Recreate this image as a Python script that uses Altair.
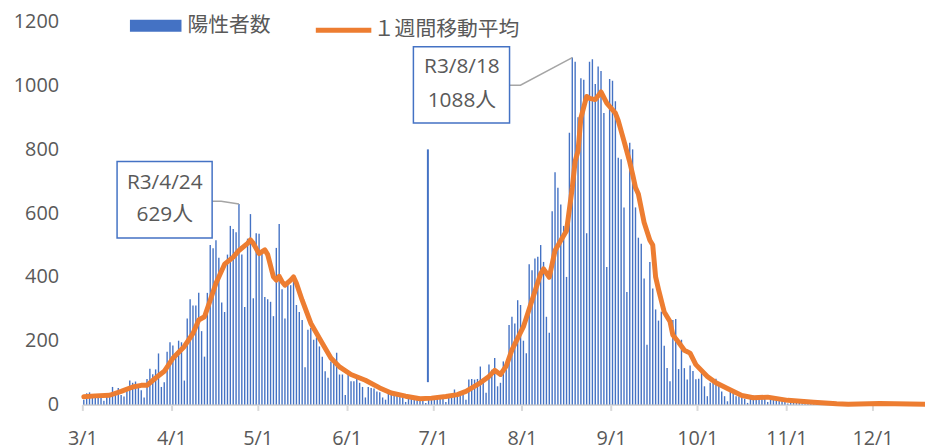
import altair as alt
import pandas as pd

# ---------------- data ----------------
start_date = "2021-03-01"

# daily positive cases from 2021-03-01 to 2021-12-19 (one row per week, Mon..Sun)
daily_cases = [
    15, 35, 38, 30, 32, 28, 20,
    12, 30, 35, 55, 40, 52, 30,
    25, 48, 75, 68, 72, 60, 45,
    22, 80, 112, 95, 110, 160, 55,
    70, 165, 195, 185, 160, 200, 195,
    75, 270, 330, 310, 310, 350, 230,
    150, 350, 500, 490, 515, 460, 320,
    290, 470, 560, 550, 540, 629, 470,
    306, 520, 597, 333, 537, 535, 480,
    337, 330, 322, 277, 491, 566, 361,
    270, 384, 374, 400, 312, 290, 265,
    117, 234, 240, 203, 210, 182, 150,
    104, 84, 135, 140, 162, 94, 94,
    30, 94, 73, 73, 85, 68, 55,
    22, 55, 52, 50, 41, 38, 22,
    15, 40, 38, 32, 30, 28, 22,
    8, 25, 22, 18, 15, 14, 12,
    5, 15, 22, 20, 25, 22, 18,
    8, 28, 30, 47, 25, 35, 30,
    15, 78, 80, 78, 80, 119, 80,
    37, 125, 109, 146, 57, 68, 135,
    110, 249, 275, 254, 327, 312, 200,
    161, 440, 421, 458, 463, 500, 447,
    275, 225, 606, 728, 680, 627, 560,
    400, 852, 1088, 1075, 901, 1023, 1018,
    537, 1075, 1083, 1005, 1060, 1046, 914,
    431, 1021, 1015, 951, 774, 769, 618,
    353, 821, 800, 618, 523, 504, 395,
    187, 447, 364, 298, 263, 291, 184,
    114, 73, 265, 268, 111, 203, 114,
    78, 122, 105, 79, 81, 105, 57,
    26, 68, 68, 81, 62, 41, 26,
    10, 42, 42, 26, 25, 22, 18,
    5, 20, 28, 25, 22, 24, 20,
    8, 15, 20, 18, 14, 12, 8,
    3, 12, 10, 8, 9, 7, 5,
    2, 8, 7, 6, 5, 5, 3,
    1, 3, 4, 2, 3, 2, 1,
    0, 1, 2, 3, 2, 1, 3,
    0, 2, 3, 4, 5, 3, 2,
    1, 2, 4, 3, 5, 4, 3,
    1, 2, 3, 3, 2, 4, 1,
]

# 7-day moving average, read at points along the orange line (days after 3/1)
ma_days = [0, 4, 9, 13, 17, 20, 22, 25, 28, 31,
           35, 38, 40, 42, 44, 46, 49, 52, 54, 57,
           58, 59, 61, 63, 64, 66, 67, 68, 69, 70,
           72, 73, 74, 76, 79, 83, 86, 89, 93, 98,
           103, 107, 112, 117, 121, 126, 130, 133, 138, 141,
           143, 145, 147, 149, 153, 156, 159, 160, 162, 164,
           166, 168, 170, 171, 172, 173, 175, 176, 178, 180,
           182, 185, 186, 188, 190, 191, 192, 193, 195, 197,
           198, 199, 200, 202, 204, 205, 207, 209, 211, 213,
           217, 220, 224, 229, 233, 238, 245, 254, 262, 266,
           277, 293]
ma_values = [24, 27, 29, 41, 55, 60, 60, 83, 104, 145,
             182, 223, 265, 275, 327, 380, 440, 462, 483, 505,
             516, 505, 473, 485, 470, 400, 390, 402, 385, 374,
             390, 400, 380, 327, 255, 192, 146, 118, 94, 76,
             52, 36, 26, 18, 20, 25, 31, 41, 68, 88,
             107, 94, 120, 171, 244, 327, 410, 425, 399, 483,
             514, 545, 680, 763, 795, 899, 966, 960, 956, 980,
             945, 914, 890, 826, 760, 722, 680, 660, 571, 515,
             500, 400, 361, 290, 260, 218, 195, 170, 161, 125,
             88, 68, 50, 28, 21, 23, 13, 7, 2, 1,
             3, 1]

series_names = ["陽性者数", "１週間移動平均"]
month_ticks = [3, 4, 5, 6, 7, 8, 9, 10, 11, 12]
y_ticks = [0, 200, 400, 600, 800, 1000, 1200]

# callouts
callout_line1 = ["R3/4/24", "R3/8/18"]
callout_line2 = ["629人", "1088人"]
callout_x = ["2021-03-29T16:00:00", "2021-07-11T02:00:00"]
callout_y1 = [694, 1058]
callout_y2 = [593, 953]
box_x = ["2021-03-13T02:00:00", "2021-06-24T05:00:00"]
box_x2 = ["2021-04-15T04:00:00", "2021-07-27T16:00:00"]
box_y = [522, 883]
box_y2 = [762, 1122]
leader_id = [0, 0, 0, 1, 1, 1]
leader_order = [0, 1, 2, 0, 1, 2]
leader_x = ["2021-04-15T04:00:00", "2021-04-18T07:00:00", "2021-04-24T12:00:00",
            "2021-07-27T16:00:00", "2021-07-31T11:00:00", "2021-08-18T12:00:00"]
leader_y = [637, 637, 629, 1001, 1001, 1088]

marker_date = "2021-06-29T06:00:00"
marker_from = 70
marker_to = 800

# ---------------- build tables ----------------
half_day = pd.Timedelta(hours=12)
dates = pd.date_range(start_date, periods=len(daily_cases), freq="D") + half_day
bars_df = pd.DataFrame({
    "date": dates.strftime("%Y-%m-%dT%H:%M:%S"),
    "cases": daily_cases,
    "series": series_names[0],
})
ma_dates = pd.Timestamp(start_date) + pd.to_timedelta(ma_days, unit="D") + half_day
ma_df = pd.DataFrame({
    "date": ma_dates.strftime("%Y-%m-%dT%H:%M:%S"),
    "ma": ma_values,
    "series": series_names[1],
})
box_df = pd.DataFrame({"x": box_x, "x2": box_x2, "y": box_y, "y2": box_y2})
txt_df = pd.DataFrame({
    "x": callout_x * 2,
    "y": callout_y1 + callout_y2,
    "t": callout_line1 + callout_line2,
})
lead_df = pd.DataFrame({"id": leader_id, "o": leader_order, "x": leader_x, "y": leader_y})
mark_df = pd.DataFrame({"x": [marker_date], "y": [marker_from], "y2": [marker_to]})

# ---------------- styling ----------------
BLUE = "#4472C4"
ORANGE = "#ED7D31"
TXT = "#595959"
AXIS = "#D9D9D9"
LATIN = "Open Sans"
CJK = "Noto Sans CJK JP"
MIXED = "'Open Sans', 'Noto Sans CJK JP', sans-serif"

x_scale = alt.Scale(domain=[alt.DateTime(year=2021, month=3, date=1),
                            alt.DateTime(year=2021, month=12, date=19, hours=6)],
                    nice=False, padding=0)
y_scale = alt.Scale(domain=[0, 1200], nice=False)

x_axis = alt.Axis(
    values=[alt.DateTime(year=2021, month=m, date=1) for m in month_ticks],
    format="%-m/%-d", title=None, grid=False,
    domainColor=AXIS, domainWidth=2, tickColor=AXIS, tickWidth=2, tickSize=6,
    labelFont=LATIN, labelFontSize=20, labelColor=TXT, labelPadding=18,
    labelFlush=False, labelOverlap=False,
)
y_axis = alt.Axis(
    values=y_ticks, format="d", title=None, grid=False, domain=False, ticks=False,
    labelFont=LATIN, labelFontSize=20, labelColor=TXT, labelPadding=24,
)

X = lambda f: alt.X(f, type="temporal", scale=x_scale, axis=x_axis)
Y = lambda f: alt.Y(f, type="quantitative", scale=y_scale, axis=y_axis)

bars = alt.Chart(bars_df).mark_bar(width=1.4).encode(
    x=X("date"),
    y=Y("cases"),
    color=alt.Color(
        "series:N",
        scale=alt.Scale(domain=[series_names[0]], range=[BLUE]),
        legend=alt.Legend(
            orient="none", legendX=48, legendY=-22, title=None, padding=0,
            symbolType="M-1,-0.23H1V0.23H-1Z", symbolSize=2704, symbolStrokeWidth=0,
            labelFont=CJK, labelFontSize=21, labelColor=TXT, labelOffset=6,
        ),
    ),
)

marker = alt.Chart(mark_df).mark_rule(color=BLUE, strokeWidth=2).encode(
    x=X("x"), y=Y("y"), y2="y2"
)

line = alt.Chart(ma_df).mark_line(strokeWidth=5, strokeCap="round", strokeJoin="round").encode(
    x=X("date"),
    y=Y("ma"),
    stroke=alt.Stroke(
        "series:N",
        scale=alt.Scale(domain=[series_names[1]], range=[ORANGE]),
        legend=alt.Legend(
            orient="none", legendX=233, legendY=-22, title=None, padding=0,
            symbolType="stroke", symbolSize=3136, symbolStrokeWidth=5,
            labelFont=CJK, labelFontSize=21, labelColor=TXT, labelOffset=0,
        ),
    ),
)

leaders = alt.Chart(lead_df).mark_line(color="#A5A5A5", strokeWidth=1.5).encode(
    x=X("x"), y=Y("y"), detail="id:N", order="o:Q"
)

boxes = alt.Chart(box_df).mark_rect(fill="white", stroke=BLUE, strokeWidth=1.5).encode(
    x=X("x"), x2="x2", y=Y("y"), y2="y2"
)

texts = alt.Chart(txt_df).mark_text(
    font=MIXED, fontSize=21, color=TXT, align="center", baseline="middle"
).encode(x=X("x"), y=Y("y"), text="t:N")

chart = alt.layer(bars, marker, line, leaders, boxes, texts).resolve_scale(
    color="independent", stroke="independent"
).properties(
    width=850, height=386,
    autosize=alt.AutoSizeParams(type="none"),
    padding={"left": 75, "top": 12, "right": 0, "bottom": 46},
).configure_view(stroke=None)

chart.save("out.html", embed_options={"renderer": "svg", "actions": False})
